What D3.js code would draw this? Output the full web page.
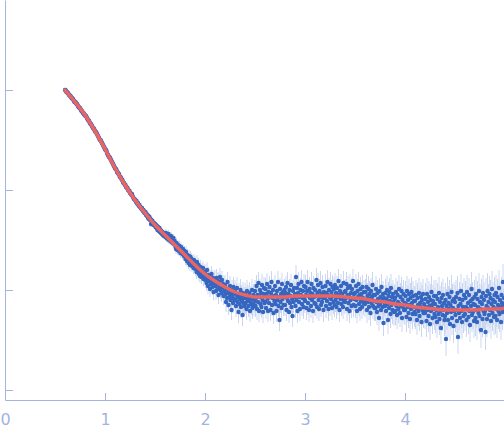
<!DOCTYPE html>
<html>
<head>
<meta charset="utf-8">
<script src="https://cdn.jsdelivr.net/npm/d3@7"></script>
<style>
  body { margin: 0; background: #fff; }
  svg { display: block; }
  .axis text { font-family: "DejaVu Sans", sans-serif; font-size: 16px; fill: #a3b5df; }
  .axis path, .axis line { stroke: #a3b5df; }
</style>
</head>
<body>
<div id="chart"></div>
<script>
// scattering curve, q from 0.6 in steps of 0.005 (nm^-1), intensity as log10(I) x 100
var qStart = 0.6, qStep = 0.005;
var intensity = [
  300,300,299,298,298,297,297,296,295,295,294,294,293,292,292,291,291,290,289,288,
  288,288,287,286,286,285,284,283,283,282,282,281,280,279,279,278,277,277,276,275,
  275,274,274,273,272,271,270,270,269,268,267,266,266,265,264,263,262,262,261,260,
  259,258,258,257,256,255,254,253,252,251,250,250,249,248,247,246,245,244,243,242,
  241,240,240,239,237,236,235,234,233,233,232,231,230,229,228,227,226,225,224,223,
  222,221,221,220,218,218,217,216,216,214,213,213,212,211,210,210,208,207,207,206,
  205,205,203,203,202,202,200,200,199,199,197,197,196,195,196,194,193,192,191,191,
  190,190,188,189,187,186,187,185,184,185,183,183,182,181,182,180,179,180,178,177,
  177,178,175,176,174,175,172,174,171,173,170,171,166,170,168,169,167,165,167,166,
  166,163,165,162,164,160,163,161,159,162,158,160,157,159,156,158,155,157,154,156,
  156,153,157,152,155,154,151,156,150,153,152,149,154,148,151,150,147,152,146,149,
  146,143,141,147,144,140,145,142,139,144,141,137,143,138,140,136,141,137,134,139,
  136,131,138,133,129,135,132,127,134,130,125,133,128,131,124,129,127,122,130,125,
  127,121,124,118,128,122,119,125,116,121,114,123,118,113,120,116,122,111,117,115,
  118,110,114,107,120,112,104,115,109,113,101,111,106,116,108,103,112,98,110,107,
  111,104,99,112,106,101,109,95,108,103,113,100,105,97,110,102,106,94,104,99,
  105,96,88,101,92,108,97,85,99,93,104,90,96,80,100,94,87,103,91,97,
  99,90,84,95,102,88,93,78,96,86,91,100,83,94,89,75,97,87,92,84,
  96,87,92,81,99,89,94,84,90,97,79,88,93,86,100,82,91,95,85,89,
  99,84,92,104,81,95,88,107,79,93,100,86,97,83,105,90,78,96,102,87,
  88,101,82,96,106,91,79,98,87,103,93,80,97,108,85,92,100,77,94,89,
  104,86,95,79,99,90,108,84,93,70,101,88,96,82,106,91,98,85,94,100,
  85,97,103,80,92,107,89,96,78,100,87,94,105,83,91,74,99,88,102,93,
  96,84,113,90,102,79,97,106,88,93,81,100,95,108,86,92,99,83,104,91,
  89,103,95,82,99,108,87,94,80,101,92,97,84,106,90,96,79,102,93,87,
  100,86,94,110,83,97,105,90,81,99,93,107,85,96,88,103,92,80,98,95,
  92,104,84,97,89,108,95,81,100,93,86,106,91,98,82,103,94,88,101,85,
  105,90,97,83,102,93,87,109,95,80,99,91,104,86,96,92,83,107,89,98,
  88,99,92,106,81,95,102,87,94,79,104,90,97,84,101,92,109,85,96,91,
  97,84,104,90,79,99,93,106,86,95,81,101,89,96,83,103,92,87,98,90,
  86,98,90,103,80,94,88,101,83,96,91,77,99,87,93,105,84,95,89,82,
  95,82,101,88,78,97,91,84,72,99,86,93,80,103,89,83,96,67,92,87,
  84,97,79,91,100,86,70,94,82,98,89,76,102,85,93,80,96,88,78,91,
  92,79,98,84,75,95,88,81,101,86,77,93,84,99,72,90,83,96,80,87,
  80,94,86,73,99,83,90,77,96,85,71,92,81,98,87,76,94,83,89,78,
  89,76,95,82,70,92,85,79,97,74,87,83,93,68,90,80,96,77,86,81,
  77,91,83,69,96,80,88,74,93,84,66,90,79,98,85,72,89,81,94,76,
  86,73,94,80,68,91,83,76,97,71,88,79,62,92,84,75,95,80,87,70,
  74,90,51,84,77,96,70,87,81,93,66,85,78,98,72,89,82,64,91,79,
  88,75,93,80,69,97,53,84,77,91,72,86,99,79,68,90,83,74,95,81,
  76,92,83,70,98,81,87,73,95,79,65,89,84,101,75,91,78,86,69,93,
  85,72,96,80,68,91,83,77,99,74,88,81,60,93,86,71,97,79,90,76,
  79,58,94,84,71,99,82,88,75,96,80,92,69,86,101,77,90,83,73,95,
  88,74,97,81,70,93,85,79,102,76,90,83,68,95,87,78,108,84,92,80
];
// error (same units) per block of 20 points
var errorByBlock = [1,1,1,1,1,1,2,2,3,3,4,5,6,7,8,9,10,11,11,11,
                    11,11,11,12,12,12,12,12,12,12,13,13,14,14,15,15,16,16,17,17,
                    17,18,18,18];
// model fit
var fitQ = [0.6,0.7,0.8,0.9,1.0,1.1,1.2,1.3,1.4,1.5,1.6,1.7,1.8,1.9,2.0,2.1,2.2,2.3,2.4,2.5,
            2.6,2.7,2.8,2.9,3.0,3.1,3.2,3.3,3.4,3.5,3.6,3.7,3.8,3.9,4.0,4.1,4.2,4.3,4.4,4.5,
            4.6,4.7,4.8,4.9,5.0];
var fitI = [300,288,275,259,241,222,205,190,177,165,155,145,135,125,116,109,103,98,95,93,
            93,93,93,94,94,94,94,94,93,92,91,89,88,86,85,83,82,81,80,80,
            80,80,81,81,82];
var xTicks = [0,1,2,3,4];
var yTicks = [0,100,200,300];

var width = 504, height = 438;
var svg = d3.select("#chart").append("svg").attr("width", width).attr("height", height);

var x = d3.scaleLinear().domain([0, 4.99]).range([5, 504]);
var y = d3.scaleLinear().domain([-10, 390]).range([400, 0]);

var points = intensity.map(function(v, i) {
  return { q: qStart + i * qStep, v: v, e: errorByBlock[Math.floor(i / 20)] };
});

svg.append("clipPath").attr("id", "clip")
  .append("rect").attr("x", 5).attr("y", 0).attr("width", 499).attr("height", 400);

var plot = svg.append("g").attr("clip-path", "url(#clip)");

plot.selectAll("line.err").data(points).enter().append("line")
  .attr("class", "err")
  .attr("x1", function(d) { return x(d.q); })
  .attr("x2", function(d) { return x(d.q); })
  .attr("y1", function(d) { return y(d.v - d.e); })
  .attr("y2", function(d) { return y(d.v + d.e); })
  .attr("stroke", "#cbd7f0")
  .attr("stroke-width", 1);

plot.selectAll("circle").data(points).enter().append("circle")
  .attr("cx", function(d) { return x(d.q); })
  .attr("cy", function(d) { return y(d.v); })
  .attr("r", 2.2)
  .attr("fill", "#3566c0");

var line = d3.line()
  .x(function(d) { return x(d[0]); })
  .y(function(d) { return y(d[1]); })
  .curve(d3.curveMonotoneX);

plot.append("path")
  .datum(fitQ.map(function(q, i) { return [q, fitI[i]]; }))
  .attr("d", line)
  .attr("fill", "none")
  .attr("stroke", "#eb6461")
  .attr("stroke-width", 3.5)
  .attr("stroke-linecap", "round");

svg.append("g").attr("class", "axis")
  .attr("transform", "translate(0,400)")
  .call(d3.axisBottom(x).tickValues(xTicks).tickFormat(d3.format("d"))
    .tickSize(-7).tickSizeOuter(0).tickPadding(14));

svg.append("g").attr("class", "axis")
  .attr("transform", "translate(5,0)")
  .call(d3.axisLeft(y).tickValues(yTicks).tickFormat("")
    .tickSize(-8).tickSizeOuter(0));
</script>
</body>
</html>
